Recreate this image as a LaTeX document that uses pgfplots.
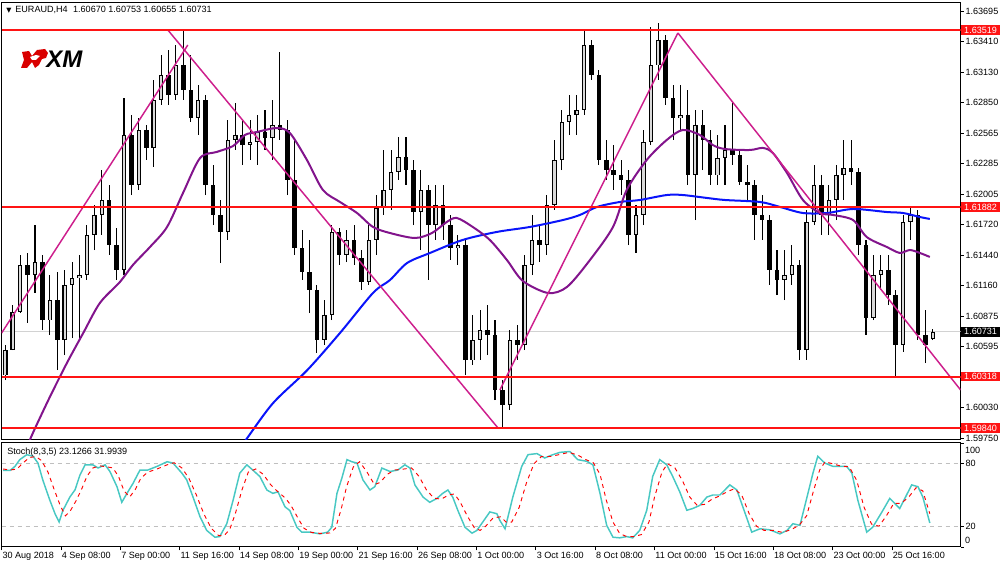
\documentclass[border=0pt]{standalone}
\usepackage{pgfplots}
\usepackage{pgfplotstable}
\usepackage{fontspec}
\pgfplotsset{compat=1.18}
\setmainfont{Liberation Sans}
\newfontfamily\dejavu{DejaVu Sans}
\newcommand\tf{\fontsize{6.8}{8}\selectfont}

\definecolor{trend}{RGB}{205,30,140}
\definecolor{mapurple}{RGB}{130,20,140}
\definecolor{mablue}{RGB}{10,20,250}
\definecolor{stochk}{RGB}{72,200,195}
\definecolor{lvl}{RGB}{255,20,20}

% EURAUD H4 candles (two H4 bars per row), i = bar index
\pgfplotstableread{
i o h l c
1 1.60332 1.60610 1.60286 1.60563
3 1.60563 1.60979 1.60563 1.60914
5 1.60914 1.61441 1.60905 1.61349
7 1.61349 1.61460 1.60813 1.61256
9 1.61256 1.61718 1.61090 1.61376
11 1.61376 1.61441 1.60748 1.60840
13 1.60840 1.61256 1.60702 1.61025
15 1.61025 1.61284 1.60378 1.60656
17 1.60656 1.61302 1.60517 1.61164
19 1.61164 1.61376 1.60674 1.61228
21 1.61228 1.61441 1.60656 1.61256
23 1.61256 1.61718 1.61210 1.61626
25 1.61626 1.61903 1.61487 1.61811
27 1.61811 1.62226 1.61626 1.61949
29 1.61949 1.62088 1.61441 1.61533
31 1.61533 1.61691 1.61210 1.61302
33 1.61302 1.62892 1.61256 1.62550
35 1.62550 1.62735 1.61995 1.62088
37 1.62088 1.62707 1.62042 1.62596
39 1.62596 1.62642 1.62319 1.62430
41 1.62430 1.63058 1.62254 1.62873
43 1.62873 1.63289 1.62827 1.63104
45 1.63104 1.63335 1.62827 1.62919
47 1.62919 1.63381 1.62873 1.63196
49 1.63196 1.63520 1.62873 1.62966
51 1.62966 1.63289 1.62670 1.62707
53 1.62707 1.63012 1.62550 1.62873
55 1.62873 1.62919 1.61995 1.62088
57 1.62088 1.62273 1.61718 1.61811
59 1.61811 1.61949 1.61367 1.61654
61 1.61654 1.62688 1.61580 1.62504
63 1.62504 1.62845 1.62411 1.62550
65 1.62550 1.62688 1.62273 1.62457
67 1.62457 1.62688 1.62319 1.62485
69 1.62485 1.62735 1.62273 1.62577
71 1.62577 1.62781 1.62411 1.62522
73 1.62522 1.62873 1.62319 1.62642
75 1.62642 1.63317 1.62504 1.62596
77 1.62596 1.62688 1.61995 1.62134
79 1.62134 1.62504 1.61441 1.61506
81 1.61506 1.61672 1.61210 1.61284
83 1.61284 1.61580 1.60905 1.61118
85 1.61118 1.61160 1.60536 1.60656
87 1.60656 1.61025 1.60610 1.60887
89 1.60887 1.61718 1.60840 1.61654
91 1.61654 1.61691 1.61349 1.61441
93 1.61441 1.61672 1.61376 1.61580
95 1.61580 1.61718 1.61349 1.61413
97 1.61413 1.61487 1.61118 1.61192
99 1.61192 1.61718 1.61164 1.61580
101 1.61580 1.61995 1.61441 1.61875
103 1.61875 1.62411 1.61811 1.62042
105 1.62042 1.62411 1.61857 1.62208
107 1.62208 1.62531 1.62134 1.62347
109 1.62347 1.62531 1.62088 1.62226
111 1.62226 1.62319 1.61718 1.61838
113 1.61838 1.62226 1.61487 1.62042
115 1.62042 1.62088 1.61210 1.61718
117 1.61718 1.62088 1.61580 1.61903
119 1.61903 1.62088 1.61580 1.61718
121 1.61718 1.61811 1.61395 1.61506
123 1.61506 1.61626 1.61349 1.61533
125 1.61533 1.61580 1.60332 1.60471
127 1.60471 1.60887 1.60425 1.60656
129 1.60656 1.60933 1.60471 1.60748
131 1.60748 1.60979 1.60517 1.60702
133 1.60702 1.60840 1.60101 1.60194
135 1.60194 1.60286 1.59852 1.60055
137 1.60055 1.60748 1.60009 1.60656
139 1.60656 1.60794 1.60471 1.60610
141 1.60610 1.61441 1.60563 1.61349
143 1.61349 1.61811 1.61256 1.61580
145 1.61580 1.61718 1.61376 1.61533
147 1.61533 1.61995 1.61441 1.61903
149 1.61903 1.62504 1.61857 1.62319
151 1.62319 1.62781 1.62226 1.62670
153 1.62670 1.62919 1.62550 1.62735
155 1.62735 1.62919 1.62550 1.62781
157 1.62781 1.63520 1.62735 1.63381
159 1.63381 1.63427 1.63058 1.63104
161 1.63104 1.63150 1.62273 1.62319
163 1.62319 1.62504 1.62134 1.62226
165 1.62226 1.62457 1.62042 1.62180
167 1.62180 1.62319 1.61995 1.62134
169 1.62134 1.62226 1.61533 1.61626
171 1.61626 1.61903 1.61460 1.61811
173 1.61811 1.62596 1.61718 1.62485
175 1.62485 1.63548 1.62457 1.63196
177 1.63196 1.63585 1.63058 1.63427
179 1.63427 1.63474 1.62827 1.62892
181 1.62892 1.63012 1.62504 1.62707
183 1.62707 1.63012 1.62596 1.62735
185 1.62735 1.62966 1.62088 1.62180
187 1.62180 1.62781 1.61764 1.62642
189 1.62642 1.62781 1.62226 1.62504
191 1.62504 1.62596 1.62088 1.62180
193 1.62180 1.62550 1.62088 1.62337
195 1.62337 1.62642 1.62088 1.62411
197 1.62411 1.62845 1.62273 1.62365
199 1.62365 1.62411 1.62088 1.62115
201 1.62115 1.62273 1.61949 1.62088
203 1.62088 1.62134 1.61580 1.61811
205 1.61811 1.61995 1.61580 1.61764
207 1.61764 1.61811 1.61164 1.61302
209 1.61302 1.61487 1.61071 1.61210
211 1.61210 1.61487 1.61025 1.61256
213 1.61256 1.61533 1.61164 1.61349
215 1.61349 1.61395 1.60471 1.60563
217 1.60563 1.61857 1.60471 1.61746
219 1.61746 1.62273 1.61718 1.62088
221 1.62088 1.62180 1.61626 1.61811
223 1.61811 1.62088 1.61626 1.61949
225 1.61949 1.62273 1.61764 1.62180
227 1.62180 1.62504 1.61949 1.62245
229 1.62245 1.62504 1.62088 1.62208
231 1.62208 1.62245 1.61441 1.61533
233 1.61533 1.61580 1.60702 1.60859
235 1.60859 1.61441 1.60840 1.61256
237 1.61256 1.61441 1.61118 1.61302
239 1.61302 1.61441 1.60979 1.61071
241 1.61071 1.61118 1.60314 1.60610
243 1.60610 1.61811 1.60545 1.61746
245 1.61746 1.61885 1.61580 1.61811
247 1.61811 1.61857 1.60656 1.60702
249 1.60702 1.60933 1.60443 1.60610
251 1.60670 1.60753 1.60655 1.60731
}\candles

\begin{document}
\begin{tikzpicture}
\path[use as bounding box] (0,0) rectangle (750pt,424.5pt);

% ---------- price window ----------
\begin{axis}[
  at={(1.2pt,94.5pt)}, anchor=south west,
  width=719.25pt, height=327.75pt, scale only axis,
  xmin=0, xmax=258.5, ymin=1.59732, ymax=1.63769,
  clip mode=individual,
  axis line style={black, line width=0.75pt},
  xtick=\empty,
  ytick={1.59750,1.60030,1.60595,1.60875,1.61160,1.61440,1.61720,1.62005,1.62285,1.62565,1.62850,1.63130,1.63410,1.63695},
  yticklabels={1.59750,1.60030,1.60595,1.60875,1.61160,1.61440,1.61720,1.62005,1.62285,1.62565,1.62850,1.63130,1.63410,1.63695},
  ytick pos=right, yticklabel pos=right,
  tick align=outside, major tick length=2.5pt,
  y tick style={black, line width=0.6pt},
  yticklabel style={font=\tf, anchor=west, inner sep=0pt, xshift=1pt},
]
% current price
\addplot[gray!35, line width=0.7pt, forget plot] coordinates {(0,1.60731) (258.5,1.60731)};

% wicks
\addplot[draw=none, mark=none, forget plot,
  error bars/.cd, y dir=plus, y explicit, error mark=none,
  error bar style={draw=black, line width=0.8pt}]
  table[x=i, y=l, y error expr=\thisrow{h}-\thisrow{l}] {\candles};
% bodies
\addplot[draw=none, mark=none, forget plot,
  error bars/.cd, y dir=both, y explicit, error mark=none,
  error bar style={draw=black, line width=3.4pt}]
  table[x=i, y expr=(\thisrow{o}+\thisrow{c})/2,
        y error expr=abs(\thisrow{c}-\thisrow{o})/2+0.00002] {\candles};
% hollow bull bodies (grey-looking at this size)
\addplot[draw=none, mark=none, forget plot,
  error bars/.cd, y dir=both, y explicit, error mark=none,
  error bar style={draw=white!70!gray, line width=1.7pt}]
  table[x=i, y expr=(\thisrow{o}+\thisrow{c})/2,
        y error expr=((\thisrow{c}-\thisrow{o})/2-0.00006+abs((\thisrow{c}-\thisrow{o})/2-0.00006))/2] {\candles};

% moving averages
\addplot[mablue, line width=1.5pt, smooth] coordinates {
(64.3,1.59658)(66.2,1.59750)(73.2,1.60074)(82.4,1.60378)(91.2,1.60720)(100.1,1.61090)
(104.7,1.61210)(109.3,1.61367)(115.5,1.61460)(124.3,1.61580)(133.5,1.61654)(142.4,1.61700)
(151.3,1.61764)(155.9,1.61811)(160.5,1.61885)(166.7,1.61931)(172.0,1.61949)(179.3,1.61995)
(183.6,1.61995)(190.1,1.61968)(195.0,1.61949)(204.4,1.61931)(209.8,1.61885)(216.0,1.61829)
(222.5,1.61829)(229.6,1.61866)(238.6,1.61838)(243.0,1.61829)(247.5,1.61792)(250.2,1.61774)};
\addplot[mapurple, line width=1.5pt, smooth] coordinates {
(7.1,1.59686)(8.5,1.59802)(13.0,1.60129)(17.6,1.60443)(22.0,1.60720)(26.5,1.60998)
(31.9,1.61192)(35.4,1.61349)(40.0,1.61515)(44.6,1.61700)(48.9,1.62014)(53.5,1.62337)
(58.0,1.62393)(62.4,1.62448)(65.6,1.62550)(68.8,1.62577)(74.2,1.62614)(77.7,1.62568)
(82.3,1.62319)(86.6,1.62042)(91.2,1.61931)(95.8,1.61829)(100.1,1.61700)(104.7,1.61644)
(111.4,1.61598)(116.0,1.61644)(120.0,1.61746)(122.7,1.61783)(127.0,1.61700)(131.6,1.61580)
(136.2,1.61395)(140.5,1.61201)(147.3,1.61090)(152.4,1.61146)(158.6,1.61395)(164.8,1.61700)
(168.5,1.62042)(173.9,1.62319)(179.3,1.62504)(183.6,1.62596)(188.2,1.62550)(191.7,1.62457)
(195.0,1.62420)(201.7,1.62411)(205.2,1.62430)(207.9,1.62383)(211.7,1.62199)(216.0,1.61949)
(220.6,1.61829)(224.1,1.61811)(229.5,1.61764)(233.2,1.61607)(238.6,1.61515)(242.1,1.61460)
(244.8,1.61487)(247.5,1.61460)(250.2,1.61423)};

% trend lines
\addplot[trend, line width=1.1pt] coordinates {(0,1.60720) (50.2,1.63381)};
\addplot[trend, line width=1.1pt] coordinates {(44.8,1.63520) (133.8,1.59843)};
\addplot[trend, line width=1.1pt] coordinates {(134.3,1.60194) (182.3,1.63492)};
\addplot[trend, line width=1.1pt] coordinates {(182.3,1.63492) (258.5,1.60194)};

% horizontal levels
\addplot[lvl, line width=1.5pt] coordinates {(0,1.63519) (258.5,1.63519)};
\addplot[lvl, line width=1.5pt] coordinates {(0,1.61882) (258.5,1.61882)};
\addplot[lvl, line width=1.5pt] coordinates {(0,1.60318) (258.5,1.60318)};
\addplot[lvl, line width=1.5pt] coordinates {(0,1.59840) (258.5,1.59840)};

\node[fill=lvl, text=white, font=\tf, anchor=west, inner xsep=2.5pt, inner ysep=1.2pt]
  at (axis cs:258.5,1.63519) {1.63519};
\node[fill=lvl, text=white, font=\tf, anchor=west, inner xsep=2.5pt, inner ysep=1.2pt]
  at (axis cs:258.5,1.61882) {1.61882};
\node[fill=lvl, text=white, font=\tf, anchor=west, inner xsep=2.5pt, inner ysep=1.2pt]
  at (axis cs:258.5,1.60318) {1.60318};
\node[fill=lvl, text=white, font=\tf, anchor=west, inner xsep=2.5pt, inner ysep=1.2pt]
  at (axis cs:258.5,1.59840) {1.59840};
\node[fill=black, text=white, font=\tf, anchor=west, inner xsep=2.5pt, inner ysep=1.2pt]
  at (axis cs:258.5,1.60731) {1.60731};
\end{axis}

% ---------- stochastic window ----------
\begin{axis}[
  at={(1.2pt,14.25pt)}, anchor=south west,
  width=719.25pt, height=78pt, scale only axis,
  xmin=0, xmax=258.5, ymin=0, ymax=100,
  clip mode=individual,
  axis line style={black, line width=0.75pt},
  xtick={0,16,...,240},
  xticklabels={30 Aug 2018,4 Sep 08:00,7 Sep 00:00,11 Sep 16:00,14 Sep 08:00,19 Sep 00:00,21 Sep 16:00,26 Sep 08:00,1 Oct 00:00,3 Oct 16:00,8 Oct 08:00,11 Oct 00:00,15 Oct 16:00,18 Oct 08:00,23 Oct 00:00,25 Oct 16:00},
  xtick pos=bottom, ytick pos=right, yticklabel pos=right,
  ytick={0,20,80,100}, yticklabels={,20,80,},
  tick align=outside, major tick length=2.5pt,
  tick style={black, line width=0.6pt},
  xticklabel style={font=\tf, anchor=north west, inner sep=0pt, yshift=-1.5pt, xshift=0.5pt},
  yticklabel style={font=\tf, anchor=west, inner sep=0pt, xshift=1pt},
]
\addplot[gray!50, dashed, line width=0.5pt] coordinates {(0,80) (258.5,80)};
\addplot[gray!50, dashed, line width=0.5pt] coordinates {(0,20) (258.5,20)};
\addplot[stochk, line width=1.1pt] coordinates {
(0.4,73.6)(2.3,73.6)(3.6,77.5)(4.9,84)(6.8,88.8)(8.5,87.2)(9.8,80.7)(11.1,64.5)(13.0,45)(14.4,32)
(15.5,24)(16.5,35)(18.4,48)(19.8,55)(21.1,69)(22.5,79)(24.6,79)(26.0,76)(27.9,79)(29.2,72.6)
(31.1,58)(32.4,43)(33.8,51.6)(35.4,61)(37.3,74)(39.4,74)(41.9,77.5)(44.6,82)(46.2,80.7)(48.6,71)
(49.9,64.5)(51.6,48)(53.5,28.9)(55.3,15.9)(57.5,9.4)(58.8,10)(60.7,22.4)(62.4,45)(64.2,71)(66.1,79)
(67.7,74)(69.6,67.8)(71.5,54.8)(73.1,51.6)(74.5,53)(76.4,38.6)(77.7,35)(79.6,19)(80.9,14.3)(83.1,14.3)
(85.8,12.6)(87.9,14.3)(89.0,19)(90.4,51.6)(91.7,66)(93.1,84)(94.4,82)(95.8,80.7)(97.4,64.5)(99.3,54.8)
(100.6,58)(102.5,75.9)(104.7,72.6)(106.8,74)(108.7,79)(110.1,75.9)(111.4,59.7)(113.6,48)(115.4,43)(117.3,46.6)
(118.9,51.6)(120.3,54.8)(121.6,48)(123.0,35)(124.9,19)(126.8,13.3)(128.1,15.9)(129.7,24)(131.6,33.7)(133.5,32)
(134.3,25.6)(135.7,17.5)(137.8,48)(140.2,77.5)(141.9,88.8)(144.3,89.8)(146.4,85.6)(148.6,88.8)(150.5,91)(153.2,91.8)
(155.3,84)(157.7,82.4)(159.4,79)(161.3,51.6)(163.1,20.8)(164.8,9.4)(166.6,8.8)(168.5,10)(170.1,8.8)(172.0,15.9)
(173.9,35.3)(175.5,67.8)(177.4,84)(179.3,79)(180.9,67.8)(182.8,53)(184.7,35.3)(186.3,37)(188.2,40)(190.1,48)
(191.7,50)(193.6,50)(196.3,59.7)(198.2,54.8)(199.8,38.6)(202.2,14.3)(204.4,17.5)(207.1,16.5)(209.8,12.6)(211.7,15.9)
(213.3,22.4)(215.2,20.8)(217.1,48)(218.7,71)(220.0,87.2)(221.9,80.7)(224.1,77.5)(227.8,77.5)(229.2,71)(230.8,45)
(233.2,14.3)(234.8,19)(237.3,33.7)(239.4,46.7)(242.1,37)(245.3,59.7)(247.0,58)(248.3,48.3)(250.2,23.1)};
\addplot[red, dashed, line width=0.7pt] coordinates {
(0.4,75)(2.3,74)(4.2,75)(5.5,80)(7.5,86)(9.2,87)(10.8,83)(12.5,72)(14.2,55)(15.8,40)
(17.2,30)(18.4,34)(20,44)(21.5,55)(23,68)(24.6,76)(26.5,78)(28.5,77)(30,76)(31.5,68)
(33,54)(34.5,48)(36,55)(37.5,66)(39.4,72)(41.9,75)(44.6,79)(46.5,81)(48.6,76)(50.5,66)
(52.5,50)(54.5,32)(56.5,18)(58.5,11)(60,11)(61.5,17)(63,32)(64.8,55)(66.5,72)(68.5,75)
(70.5,70)(72.5,60)(74.5,53)(76.5,47)(78,40)(80,27)(81.5,18)(83.5,14)(86,13)(88.5,13.5)
(90,18)(91.5,36)(93,58)(94.8,77)(96.5,82)(98.5,72)(100.5,60)(102,62)(104,70)(106,74)
(108.5,75)(110.5,76)(112.5,68)(114.5,55)(116.5,47)(118.5,46)(120.5,50)(122,51)(123.5,44)(125.5,30)
(127.5,18)(129,16)(130.5,20)(132.5,28)(134.5,29)(136,24)(137.5,24)(139.5,38)(141.5,62)(143.5,80)
(145.5,87)(148,87)(150.5,89)(153,91)(155.5,88)(157.5,84)(159.5,81)(161.3,70)(163,45)(164.8,24)
(166.6,13)(168.5,10)(170.5,10)(172.5,12)(174.5,24)(176,48)(178,72)(179.5,80)(181.5,76)(183.5,64)
(185.5,48)(187.5,40)(189.5,41)(191.5,46)(193.5,49)(195.5,53)(197.5,56)(199.5,50)(201.5,32)(203.5,20)
(205.5,16)(208,16)(210.5,14)(213,17)(215,21)(217,30)(218.7,52)(220.5,74)(222,82)(224,80)
(226,78)(228.5,77)(230.5,64)(232.5,38)(234.5,22)(236.5,20)(238.5,30)(240.5,42)(242.5,42)(244.5,48)
(246.5,57)(248.3,54)(250.2,32)};
\node[font=\tf, anchor=west, inner sep=0pt] at (axis cs:258.5,93) {\hspace{3.2pt}100};
\node[font=\tf, anchor=west, inner sep=0pt] at (axis cs:258.5,6) {\hspace{3.2pt}0};
\end{axis}

% ---------- header, logo, indicator caption (image px coordinates) ----------
\begin{scope}[x=0.75pt, y=-0.75pt, yshift=424.5pt]
  \node[font=\tf, anchor=west, inner sep=0pt] at (6,10) {{\dejavu\fontsize{5}{6}\selectfont ▼}\hspace{3pt}EURAUD,H4\hspace{4pt}1.60670 1.60753 1.60655 1.60731};
  \node[font=\tf, anchor=west, inner sep=0pt] at (7,452) {Stoch(8,3,5) 23.1266 31.9939};
  \fill[red!85!black] (22,52) -- (29,51) -- (32,56) -- (37,50) -- (45,49) -- (48,53) -- (46,58)
     -- (42,59) -- (39,65) -- (35,68) -- (32,62) -- (27,68) -- (21,68) -- (24,60) -- cycle;
  \fill[white] (30,57) -- (36,55) -- (40,56) -- (36,60) -- (32,60) -- cycle;
  \node[anchor=west, inner sep=0pt, font=\fontsize{18}{18}\selectfont\bfseries\itshape] at (46,59) {XM};
\end{scope}
\end{tikzpicture}
\end{document}
